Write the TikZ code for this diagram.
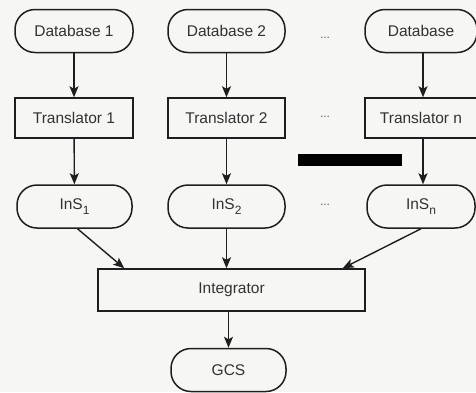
\documentclass[tikz,border=0pt]{standalone}
\usepackage{fontspec}
\setmainfont{Liberation Sans}
\usetikzlibrary{arrows.meta,calc}
\definecolor{paper}{RGB}{246,246,244}
\definecolor{ink}{RGB}{30,30,30}
\definecolor{txt}{RGB}{50,50,50}
\newcommand{\sub}[1]{\raisebox{-0.6ex}{\fontsize{12}{12}\selectfont #1}}
\tikzset{
  base/.style={draw=ink, line width=1.5pt, text=txt, font=\fontsize{15.5}{18}\selectfont, inner sep=0pt},
  pill/.style={base, rounded corners=20pt, minimum height=43pt},
  boxnode/.style={base, minimum height=40pt},
  flow/.style={draw=ink, line width=1.4pt, -{Stealth[length=11pt,width=9pt,inset=2.5pt]}},
  gap/.style={text=txt!80, font=\fontsize{12}{12}\selectfont}
}
\begin{document}
\begin{tikzpicture}[x=1pt,y=-1pt]
  \fill[paper] (0,0) rectangle (476,392);
  \useasboundingbox (0,0) rectangle (476,392);

  % sources
  \node[pill, minimum width=118pt] (d1) at (74,31) {Database 1};
  \node[pill, minimum width=117pt] (d2) at (226.5,31) {Database 2};
  \node[pill, minimum width=112pt] (dn) at (421,31) {Database};

  % translators
  \node[boxnode, minimum width=118pt] (t1) at (74,118) {Translator 1};
  \node[boxnode, minimum width=117pt] (t2) at (226.5,118) {Translator 2};
  \node[boxnode, minimum width=112pt] (tn) at (421,118) {Translator n};

  % intermediate schemas
  \node[pill, minimum width=115pt] (i1) at (74.5,206.5) {InS\sub{1}};
  \node[pill, minimum width=117pt] (i2) at (226.5,206.5) {InS\sub{2}};
  \node[pill, minimum width=108pt] (in) at (421,206.5) {InS\sub{n}};

  % integration
  \node[boxnode, minimum width=267pt, minimum height=42pt] (ig) at (231.5,290) {Integrator};
  \node[pill, minimum width=115pt] (gcs) at (228.5,370) {GCS};

  % ellipses between columns
  \node[gap] (e1) at (325,38) {...};
  \node[gap] (e2) at (325,117) {...};
  \node[gap] (e3) at (325,205) {...};

  % redaction bar
  \fill[black] (298,154) rectangle (402,166);

  % connectors
  \coordinate (igl) at ($(ig.north west)+(27,0)$);
  \coordinate (igr) at ($(ig.north east)+(-23,0)$);
  \draw[flow] (d1) -- (t1);
  \draw[flow] (d2) -- (t2);
  \draw[flow] ([xshift=2pt]dn.south) -- ([xshift=2pt]tn.north);
  \draw[flow] (t1) -- (i1);
  \draw[flow] (t2) -- (i2);
  \draw[flow] ([xshift=2pt]tn.south) -- ([xshift=2pt]in.north);
  \draw[flow] ([xshift=3pt]i1.south) -- (igl);
  \draw[flow] (i2.south) -- (i2.south |- ig.north);
  \draw[flow] (in.south) -- (igr);
  \draw[flow] (gcs.north |- ig.south) -- (gcs);
\end{tikzpicture}
\end{document}
